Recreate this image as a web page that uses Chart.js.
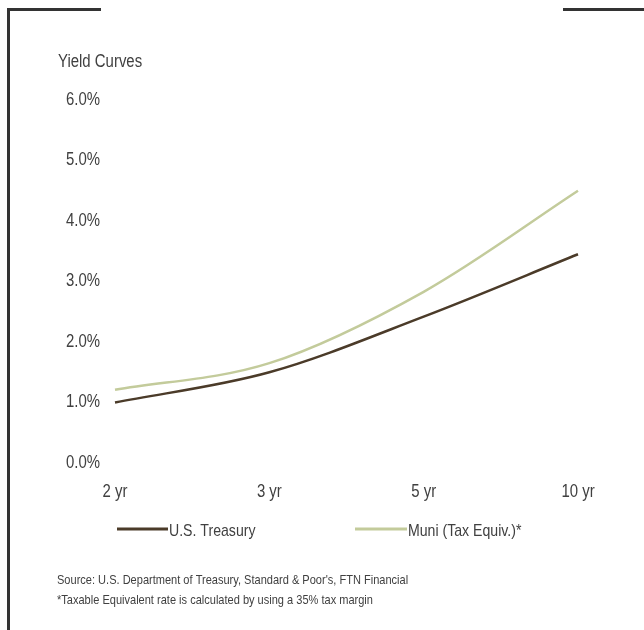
<!DOCTYPE html>
<html>
<head>
<meta charset="utf-8">
<script src="https://cdn.jsdelivr.net/npm/chart.js@4.4.1/dist/chart.umd.min.js"></script>
<style>
  html, body { margin: 0; padding: 0; background: #ffffff; }
  #wrap { width: 644px; height: 630px; position: relative; }
</style>
</head>
<body>
<div id="wrap"><canvas id="c" width="644" height="630"></canvas></div>
<script>
const categories = ["2 yr", "3 yr", "5 yr", "10 yr"];
const treasury = [1.00, 1.50, 2.42, 3.45];
const muni = [1.21, 1.65, 2.83, 4.50];
const yTicks = [0, 1, 2, 3, 4, 5, 6];
const titleText = "Yield Curves";
const notes = [
  "Source: U.S. Department of Treasury, Standard & Poor's, FTN Financial",
  "*Taxable Equivalent rate is calculated by using a 35% tax margin"
];
const FONT = "'Liberation Sans', Arial, sans-serif";
const TEXT = "#404040";
const NARROW = 0.83;

function narrowText(ctx, text, x, y, size, align) {
  ctx.save();
  ctx.font = size + "px " + FONT;
  ctx.textBaseline = "middle";
  ctx.textAlign = align || "left";
  ctx.fillStyle = TEXT;
  ctx.translate(x, y);
  ctx.scale(NARROW, 1);
  ctx.fillText(text, 0, 0);
  ctx.restore();
}

const decor = {
  id: 'decor',
  afterDraw(chart) {
    const ctx = chart.ctx;
    ctx.save();
    // frame
    ctx.fillStyle = "#333333";
    ctx.fillRect(7, 8, 3, 622);
    ctx.fillRect(7, 8, 94, 3);
    ctx.fillRect(563, 8, 81, 3);
    ctx.restore();
    // axis tick labels, placed through the chart's own scales
    const xs = chart.scales.x, ys = chart.scales.y;
    xs.ticks.forEach((t, i) => {
      narrowText(ctx, xs.getLabelForValue(t.value), xs.getPixelForTick(i), chart.chartArea.bottom + 29, 18, "center");
    });
    ys.ticks.forEach((t, i) => {
      narrowText(ctx, Number(t.value).toFixed(1) + "%", ys.left, ys.getPixelForTick(i), 18, "left");
    });
    // title
    narrowText(ctx, titleText, 58, 62, 18, "left");
    // legend
    const legendPos = [[117, 168], [355, 407]];
    chart.data.datasets.forEach((ds, i) => {
      const [x0, x1] = legendPos[i];
      ctx.save();
      ctx.strokeStyle = ds.borderColor;
      ctx.lineWidth = 3;
      ctx.beginPath();
      ctx.moveTo(x0, 529);
      ctx.lineTo(x1, 529);
      ctx.stroke();
      ctx.restore();
      narrowText(ctx, ds.label, x1 + 1, 531, 17, "left");
    });
    // notes
    narrowText(ctx, notes[0], 57, 580, 13.3, "left");
    narrowText(ctx, notes[1], 57, 600, 13.3, "left");
  }
};

new Chart(document.getElementById('c'), {
  type: 'line',
  data: {
    labels: categories,
    datasets: [
      { label: "U.S. Treasury", data: treasury, borderColor: "#4b3b29", borderWidth: 2.5,
        pointRadius: 0, cubicInterpolationMode: 'monotone', fill: false },
      { label: "Muni (Tax Equiv.)*", data: muni, borderColor: "#c3cb9b", borderWidth: 2.5,
        pointRadius: 0, cubicInterpolationMode: 'monotone', fill: false }
    ]
  },
  options: {
    responsive: false,
    devicePixelRatio: 1,
    animation: false,
    layout: { padding: { left: 66, right: 66, top: 100, bottom: 127 } },
    plugins: { legend: { display: false }, tooltip: { enabled: false }, title: { display: false } },
    scales: {
      x: {
        offset: false,
        grid: { display: false, drawTicks: false },
        border: { display: false },
        ticks: { display: false },
        afterFit(scale) { scale.height = 40; }
      },
      y: {
        min: 0, max: 6,
        grid: { display: false, drawTicks: false },
        border: { display: false },
        afterBuildTicks(scale) { scale.ticks = yTicks.map(v => ({ value: v })); },
        ticks: { display: false },
        afterFit(scale) { scale.width = 49; }
      }
    }
  },
  plugins: [decor]
});
</script>
</body>
</html>
